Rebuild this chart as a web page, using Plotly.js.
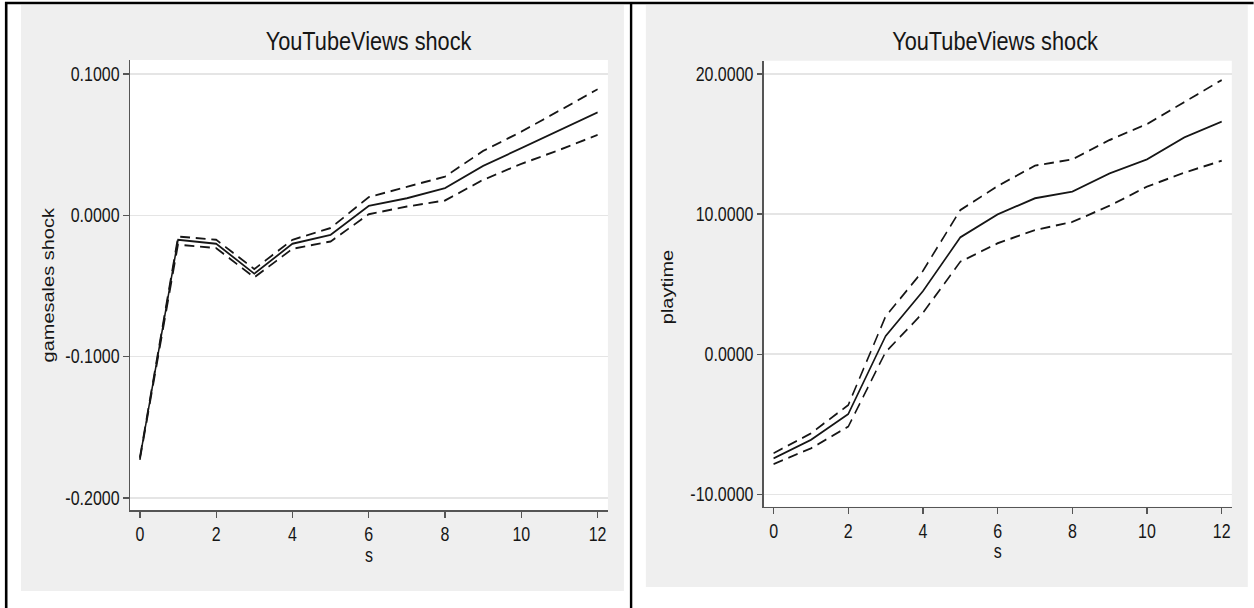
<!DOCTYPE html>
<html>
<head>
<meta charset="utf-8">
<script src="https://cdn.plot.ly/plotly-3.0.1.min.js"></script>
<style>
  html, body { margin: 0; padding: 0; background: #ffffff; }
  #frame { width: 1254px; height: 608px; overflow: hidden; }
  /* The figure is laid out wide and then narrowed horizontally, giving the
     condensed Helvetica look of the exported graphs. */
  #chart { width: 1529px; height: 608px; transform: scaleX(0.82); transform-origin: 0 0; }
</style>
</head>
<body>
<div id="frame"><div id="chart"></div></div>
<script>
// Impulse responses to a YouTubeViews shock, horizon s = 0..12
const steps = [0, 1, 2, 3, 4, 5, 6, 7, 8, 9, 10, 11, 12];

// gamesales response (point estimate and confidence band)
const salesIrf   = [-0.172, -0.0173, -0.0201, -0.0413, -0.0201, -0.0138, 0.0067, 0.0121, 0.0192, 0.0350, 0.0475, 0.0600, 0.0729];
const salesUpper = [-0.171, -0.0150, -0.0173, -0.0380, -0.0173, -0.0090, 0.0129, 0.0199, 0.0274, 0.0456, 0.0592, 0.0741, 0.0892];
const salesLower = [-0.173, -0.0208, -0.0232, -0.0439, -0.0237, -0.0185, 0.0008, 0.0062, 0.0105, 0.0251, 0.0364, 0.0463, 0.0569];

// playtime response (point estimate and confidence band)
const playIrf   = [-7.43, -6.12, -4.27, 1.30, 4.50, 8.34, 9.98, 11.13, 11.60, 12.91, 13.91, 15.48, 16.60];
const playUpper = [-7.07, -5.65, -3.63, 2.70, 5.95, 10.29, 12.00, 13.46, 13.91, 15.29, 16.43, 18.02, 19.57];
const playLower = [-7.84, -6.72, -5.17, 0.15, 2.95, 6.60, 7.92, 8.86, 9.44, 10.60, 11.96, 12.96, 13.81];

// Axis ticks
const stepTicks = [0, 2, 4, 6, 8, 10, 12];
const salesTicks = [-0.2, -0.1, 0.0, 0.1];
const playTicks = [-10, 0, 10, 20];

const panelTitle = 'YouTubeViews shock';
const salesLabel = 'gamesales shock';
const playLabel = 'playtime';
const stepLabel = 's';

// ---- geometry: positions given in on-screen pixels ----
const SX = 0.82;                 // horizontal squeeze applied by CSS
const W = 1254, H = 608;         // on-screen size
const innerW = Math.round(W / SX);
const px = x => x / W;           // paper fractions are unaffected by the squeeze
const py = y => 1 - y / H;

const sans = '"Liberation Sans", Arial, Helvetica, sans-serif';
const ink = '#161616';
const axisGrey = '#555555';

function fmt4(v) {
  const s = v.toFixed(4);
  return s === '-0.0000' ? '0.0000' : s;
}

function bandTraces(y, upper, lower, xa, ya) {
  const solid = { color: ink, width: 1.9 };
  const dashed = { color: ink, width: 1.9, dash: '12px,7px' };
  return [
    { x: steps, y: upper, xaxis: xa, yaxis: ya, mode: 'lines', line: dashed, hoverinfo: 'skip', showlegend: false },
    { x: steps, y: lower, xaxis: xa, yaxis: ya, mode: 'lines', line: dashed, hoverinfo: 'skip', showlegend: false },
    { x: steps, y: y, xaxis: xa, yaxis: ya, mode: 'lines', line: solid, hoverinfo: 'skip', showlegend: false }
  ];
}

const data = [].concat(
  bandTraces(salesIrf, salesUpper, salesLower, 'x', 'y'),
  bandTraces(playIrf, playUpper, playLower, 'x2', 'y2')
);

function xAxis(domain, anchor) {
  return {
    domain: domain, anchor: anchor, range: [-0.26, 12.27],
    tickmode: 'array', tickvals: stepTicks, ticktext: stepTicks.map(String),
    ticks: 'outside', ticklen: 6, tickwidth: 1.6, tickcolor: axisGrey,
    showline: true, linecolor: axisGrey, linewidth: 1.5,
    showgrid: false, zeroline: false,
    tickfont: { family: sans, size: 19.5, color: ink }
  };
}

function yAxis(domain, anchor, range, ticks) {
  return {
    domain: domain, anchor: anchor, range: range,
    tickmode: 'array', tickvals: ticks, ticktext: ticks.map(fmt4),
    ticks: 'outside', ticklen: 7, tickwidth: 1.4, tickcolor: axisGrey,
    showline: true, linecolor: axisGrey, linewidth: 1.8,
    showgrid: true, gridcolor: '#e5e5e5', gridwidth: 1.5, zeroline: false,
    tickfont: { family: sans, size: 19.5, color: ink }
  };
}

function rect(x0, y0, x1, y1, color) {
  return { type: 'rect', xref: 'paper', yref: 'paper', layer: 'below',
           x0: px(x0), x1: px(x1), y0: py(y1), y1: py(y0),
           fillcolor: color, line: { width: 0 } };
}
function rule(x0, y0, x1, y1, w) {
  return { type: 'line', xref: 'paper', yref: 'paper', layer: 'above',
           x0: px(x0), x1: px(x1), y0: py(y0), y1: py(y1),
           line: { color: '#000000', width: w } };
}

const shapes = [
  rect(21, 5, 624, 591, '#efefef'),
  rect(646, 5, 1248, 587, '#efefef'),
  rect(130, 60, 608, 510, '#ffffff'),
  rect(764, 60.7, 1232, 506.7, '#ffffff'),
  rule(5, 3, 1254, 3, 2.6),
  rule(6.2, 2, 6.2, 608, 2.6 / SX),
  rule(631.2, 2, 631.2, 608, 2.4 / SX)
];

function label(text, x, y, font, angle) {
  return { text: text, xref: 'paper', yref: 'paper', x: px(x), y: py(y),
           xanchor: 'center', yanchor: 'middle', showarrow: false,
           textangle: angle || 0, font: font };
}

const titleFont = { family: sans, size: 26.5, color: ink };
const axisTitleFont = { family: sans, size: 19.5, color: ink };
const rotFont = { family: sans, size: 20, color: ink };

const annotations = [
  label(panelTitle, 369, 41, titleFont),
  label(panelTitle, 996, 41, titleFont),
  label(stepLabel, 369, 555, axisTitleFont),
  label(stepLabel, 998, 551, axisTitleFont),
  label(salesLabel, 48, 285, rotFont, -90),
  label(playLabel, 667, 287, rotFont, -90)
];

const layout = {
  width: innerW, height: H,
  margin: { l: 0, r: 0, t: 0, b: 0, pad: 0 },
  paper_bgcolor: '#ffffff',
  plot_bgcolor: 'rgba(0,0,0,0)',
  showlegend: false,
  xaxis: xAxis([px(130), px(608)], 'y'),
  yaxis: yAxis([py(510), py(60)], 'x', [-0.2085, 0.1099], salesTicks),
  xaxis2: xAxis([px(764), px(1232)], 'y2'),
  yaxis2: yAxis([py(506.7), py(60.7)], 'x2', [-10.885, 20.95], playTicks),
  shapes: shapes,
  annotations: annotations
};

Plotly.newPlot('chart', data, layout, { staticPlot: true, displayModeBar: false });
</script>
</body>
</html>
